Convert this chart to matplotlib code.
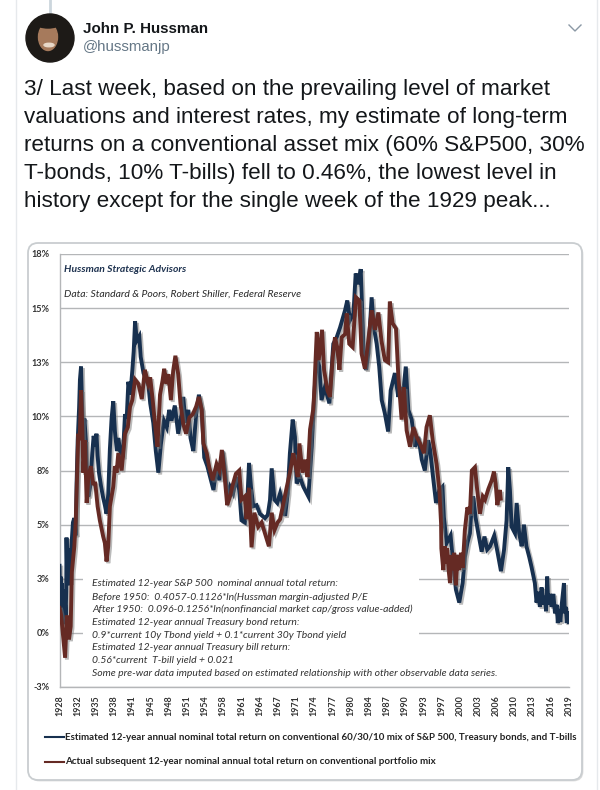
import matplotlib
matplotlib.use('Agg')
import matplotlib.pyplot as plt
import matplotlib.patheffects as pe
from matplotlib.patches import Circle, Ellipse, FancyBboxPatch, Rectangle

W, H = 600, 790

# estimated 12-year return (navy)
est_years = [1928.0, 1928.1, 1928.2, 1928.3, 1928.4, 1928.5, 1928.6, 1928.7, 1928.8, 1928.9, 1929.0, 1929.1, 1929.2,
             1929.25, 1929.35, 1929.5, 1929.6, 1929.7, 1929.85, 1930.0, 1930.2, 1930.4, 1930.65,
             1930.9, 1931.05, 1931.25, 1931.5, 1931.65, 1931.85, 1932.0, 1932.2, 1932.45, 1932.7, 1932.9, 1933.15,
             1933.5, 1933.85, 1934.1, 1934.35, 1934.6, 1934.8, 1935.05, 1935.4, 1935.75, 1936.1, 1936.4, 1936.7,
             1937.0, 1937.3, 1937.6, 1937.9, 1938.25, 1938.5, 1938.85, 1939.3, 1939.7, 1940.0, 1940.3, 1940.65,
             1941.0, 1941.25, 1941.5, 1941.8, 1942.25, 1942.5, 1943.0, 1943.9, 1944.2, 1944.75, 1945.2, 1945.65,
             1946.1, 1946.65, 1947.15, 1947.6, 1948.0, 1948.6, 1949.2, 1949.8, 1950.1, 1950.5, 1951.0, 1951.4,
             1951.9, 1952.4, 1952.9, 1953.4, 1953.85, 1954.4, 1954.9, 1955.5, 1956.05, 1956.55, 1957.1, 1957.55,
             1957.95, 1958.45, 1959.0, 1959.6, 1960.1, 1960.5, 1961.1, 1961.6, 1961.85, 1962.2, 1962.6, 1963.2,
             1963.8, 1964.7, 1965.2, 1965.6, 1965.9, 1966.4, 1966.9, 1967.4, 1967.85, 1968.3, 1968.75, 1969.15,
             1969.65, 1970.05, 1970.35, 1970.95, 1971.55, 1972.15, 1972.45, 1973.05, 1973.45, 1973.95, 1974.4,
             1974.8, 1975.4, 1976.2, 1976.9, 1977.5, 1978.1, 1979.0, 1979.4, 1979.9, 1980.5, 1980.9, 1981.35,
             1981.8, 1982.1, 1982.35, 1982.75, 1983.15, 1983.75, 1984.15, 1984.65, 1985.1, 1985.55, 1986.1, 1986.7,
             1987.15, 1987.9, 1988.5, 1988.8, 1989.3, 1989.85, 1990.3, 1990.9, 1991.5, 1992.1, 1992.7, 1993.25,
             1993.85, 1994.2, 1994.65, 1995.25, 1995.85, 1996.4, 1996.65, 1997.15, 1997.85, 1998.3, 1998.8, 1999.4,
             2000.0, 2000.4, 2000.85, 2001.3, 2001.6, 2001.9, 2002.3, 2002.8, 2003.4, 2003.9, 2004.4, 2004.9,
             2005.65, 2006.25, 2006.85, 2007.4, 2007.85, 2008.15, 2008.45, 2008.75, 2009.35, 2009.65, 2010.1,
             2010.55, 2010.95, 2011.4, 2011.9, 2012.3, 2012.9, 2013.2, 2013.5, 2013.8, 2014.1, 2014.4, 2014.7, 2014.9,
             2015.1, 2015.3, 2015.6, 2015.9, 2016.2, 2016.5, 2016.8, 2017.0, 2017.2, 2017.45, 2017.7, 2018.1, 2018.25,
             2018.45, 2018.6, 2018.8, 2019.0]
est_values = [3.1, 1.8, 2.6, 1.5, 2.3, 1.1, 2.0, 0.7, 1.6, 0.4, 1.3, 0.8, 1.9,
              4.4, 3.0, 3.9, 2.2, 2.8, 2.3, 3.4, 4.3, 5.1, 5.3,
              4.5, 6.9, 8.9, 10.4, 11.7, 12.3, 10.8, 9.1, 9.9, 8.9, 7.4, 6.3,
              6.8, 8.3, 9.1, 8.6, 9.2, 8.2, 7.4, 6.8, 6.3, 5.9, 5.5, 6.4,
              8.5, 9.9, 10.7, 9.3, 8.4, 9.0, 8.4, 8.1, 10.1, 9.9, 11.6, 11.0,
              12.1, 13.0, 14.4, 13.5, 13.7, 12.75, 12.0, 11.4, 10.6, 9.7, 8.4, 7.4,
              8.7, 9.8, 9.5, 10.3, 9.8, 10.5, 9.2, 10.1, 10.9, 9.7, 10.3, 9.0,
              8.4, 10.1, 11.0, 10.3, 8.1, 7.7, 7.2, 6.6, 7.7, 7.05, 8.4, 7.5,
              6.3, 6.75, 6.45, 7.2, 6.6, 5.2, 5.1, 6.45, 7.85, 6.75, 5.85, 5.9,
              5.5, 5.3, 5.45, 6.15, 7.6, 6.15, 6.0, 6.45, 6.0, 5.4, 6.45, 8.3,
              9.85, 9.05, 6.9, 7.2, 6.75, 6.45, 6.3, 8.6, 10.75, 12.75, 12.3,
              10.75, 11.35, 10.6, 13.35, 13.65, 14.1, 14.9, 15.35, 14.45, 14.75, 16.6, 16.1,
              16.8, 14.6, 12.6, 12.15, 12.9, 15.5, 14.1, 13.35, 12.3, 10.75, 10.15, 9.3,
              11.2, 12.0, 10.9, 11.35, 10.9, 12.3, 10.3, 9.85, 8.6, 9.05, 8.0, 7.5,
              8.9, 8.45, 7.35, 6.0, 6.6, 6.75, 5.35, 4.15, 4.5, 3.2, 2.0, 1.4,
              2.3, 3.5, 4.15, 4.6, 5.8, 6.3, 5.35, 4.6, 3.75, 4.45, 3.85, 4.0,
              4.5, 3.7, 2.85, 3.85, 5.2, 7.65, 6.6, 4.9, 4.6, 6.0, 4.6,
              4.0, 5.0, 4.0, 3.5, 3.05, 2.3, 1.4, 1.9, 1.2, 2.1, 1.3, 1.7, 1.0,
              2.6, 1.3, 1.8, 1.2, 1.8, 0.9, 1.3, 0.45, 1.1, 0.5, 1.3, 2.3, 0.9,
              1.2, 0.45, 1.0, 0.5]

# actual subsequent 12-year return (brown), stops in 2006
act_years = [1928.0, 1928.3, 1928.7, 1929.0, 1929.3, 1929.7, 1930.0, 1930.2, 1930.65, 1930.9, 1931.1, 1931.35, 1931.6,
             1931.85, 1932.1, 1932.25, 1932.55, 1932.85, 1933.15, 1933.6, 1934.0, 1934.4, 1934.8, 1935.2, 1935.8,
             1936.1, 1936.4, 1936.7, 1937.0, 1937.6, 1937.9, 1938.2, 1938.5, 1939.1, 1939.7, 1940.2, 1940.6, 1941.0,
             1941.5, 1942.1, 1942.7, 1943.25, 1943.85, 1944.2, 1944.65, 1945.05, 1945.5, 1945.95, 1946.4, 1946.7,
             1947.1, 1947.45, 1947.9, 1948.3, 1948.7, 1949.2, 1949.6, 1950.1, 1950.6, 1951.2, 1951.8, 1952.4, 1952.9,
             1953.4, 1953.7, 1954.3, 1954.75, 1955.35, 1956.05, 1956.55, 1957.0, 1957.55, 1957.95, 1958.45, 1958.9,
             1959.5, 1960.1, 1960.5, 1961.1, 1961.4, 1961.85, 1962.3, 1962.8, 1963.5, 1964.1, 1964.7, 1965.4, 1965.9,
             1966.4, 1966.95, 1967.4, 1968.0, 1968.6, 1969.15, 1969.75, 1970.05, 1970.55, 1970.85, 1971.4, 1971.85,
             1972.3, 1972.75, 1973.3, 1973.45, 1973.95, 1974.3, 1974.9, 1975.25, 1975.85, 1976.3, 1976.8, 1977.2,
             1977.6, 1978.0, 1978.4, 1979.0, 1979.3, 1979.75, 1980.35, 1980.95, 1981.55, 1981.95, 1982.55, 1983.15,
             1983.75, 1984.35, 1984.95, 1985.5, 1986.1, 1986.7, 1987.0, 1987.5, 1988.1, 1988.5, 1989.1, 1989.5, 1990.0,
             1990.6, 1991.2, 1991.8, 1992.4, 1993.1, 1993.55, 1994.15, 1994.65, 1995.35, 1995.85, 1996.15, 1996.2,
             1996.55, 1996.8, 1997.0, 1997.25, 1997.5, 1997.75, 1998.0, 1998.2, 1998.5, 1998.8, 1999.1, 1999.4,
             1999.7, 2000.0, 2000.4, 2000.85, 2001.3, 2001.65, 2002.2,
             2002.6, 2003.1, 2003.6, 2004.0, 2004.6, 2005.2, 2005.6, 2005.9, 2006.2, 2006.65, 2006.8]
act_values = [1.15, 0.8, -0.3, -1.15, 0.8, -0.3, 0.3, 2.8, 4.0, 5.2, 6.9, 9.2, 8.9,
              11.2, 9.2, 7.4, 8.9, 6.0, 7.2, 7.7, 6.9, 6.9, 5.85, 5.2, 4.45,
              4.15, 3.3, 4.0, 5.85, 6.75, 7.7, 7.4, 8.3, 7.5, 9.2, 9.5, 10.45, 10.75,
              11.7, 11.5, 10.8, 12.15, 11.5, 11.8, 10.75, 9.65, 8.6, 11.0, 11.65, 12.2,
              11.5, 11.95, 10.75, 12.1, 12.8, 11.95, 10.6, 9.65, 9.2, 9.95, 10.1, 10.45, 10.9,
              10.3, 8.75, 8.3, 7.65, 7.05, 7.8, 7.5, 8.45, 7.05, 5.9, 6.3, 6.8,
              7.35, 7.5, 6.15, 6.3, 5.25, 6.7, 3.95, 5.55, 4.9, 5.1, 4.6, 4.0, 5.55,
              4.75, 5.1, 5.25, 6.0, 6.75, 7.4, 8.3, 7.85, 7.2, 8.75, 7.4, 8.0,
              7.2, 9.4, 10.3, 10.9, 13.9, 12.6, 14.0, 12.15, 11.2, 10.9, 12.75, 13.65,
              13.2, 12.15, 13.65, 13.8, 14.75, 13.35, 13.2, 15.5, 15.35, 12.9, 12.2, 13.5,
              14.9, 14.0, 14.8, 13.5, 12.6, 12.5, 15.3, 14.3, 14.05, 11.95, 9.85, 11.35, 9.35,
              8.6, 9.5, 9.05, 8.75, 8.3, 9.5, 10.05, 8.9, 7.8, 6.6, 5.05, 3.9,
              2.9, 4.0, 3.2, 3.9, 2.9, 2.3, 3.6, 2.9, 3.7, 2.2, 3.6, 2.9,
              3.7, 3.0, 4.75, 5.8, 5.5, 7.5, 7.65,
              6.6, 5.5, 6.3, 6.15, 6.65, 7.05, 7.45, 6.9, 5.9, 6.6, 6.2]

y_ticks = [17.5, 15, 12.5, 10, 7.5, 5, 2.5, 0, -2.5]
y_labels = ['18%', '15%', '13%', '10%', '8%', '5%', '3%', '0%', '-3%']
x_labels = ['1928', '1932', '1935', '1938', '1941', '1945', '1948', '1951', '1954', '1958', '1961', '1964', '1967',
            '1971', '1974', '1977', '1980', '1984', '1987', '1990', '1993', '1997', '2000', '2003', '2006', '2010',
            '2013', '2016', '2019']

tweet_lines = ['3/ Last week, based on the prevailing level of market',
               'valuations and interest rates, my estimate of long-term',
               'returns on a conventional asset mix (60% S&P500, 30%',
               'T-bonds, 10% T-bills) fell to 0.46%, the lowest level in',
               'history except for the single week of the 1929 peak...']
note_lines = ['Estimated 12-year S&P 500  nominal annual total return:',
              'Before 1950:  0.4057-0.1126*ln(Hussman margin-adjusted P/E',
              'After 1950:  0.096-0.1256*ln(nonfinancial market cap/gross value-added)',
              'Estimated 12-year annual Treasury bond return:',
              '0.9*current 10y Tbond yield + 0.1*current 30y Tbond yield',
              'Estimated 12-year annual Treasury bill return:',
              '0.56*current  T-bill yield + 0.021',
              'Some pre-war data imputed based on estimated relationship with other observable data series.']
legend_est = 'Estimated 12-year annual nominal total return on conventional 60/30/10 mix of S&P 500, Treasury bonds, and T-bills'
legend_act = 'Actual subsequent 12-year nominal annual total return on conventional portfolio mix'

NAVY = '#17304f'
BROWN = '#652a24'
GRID = '#b4b6b8'
CHART_FONT = 'Lato'


def put_text(x, y, s, **kw):
    # x, y in image pixels, y going down
    kw.setdefault('va', 'center')
    fig.text(x / W, 1 - y / H, s, **kw)


fig = plt.figure(figsize=(W / 100, H / 100), dpi=100)

# page layer in pixel coordinates
bg = fig.add_axes([0, 0, 1, 1], zorder=0)
bg.set_xlim(0, W)
bg.set_ylim(H, 0)
bg.axis('off')
bg.plot([16, 16], [0, H], color='#e6e9ec', lw=1)
bg.plot([597, 597], [0, H], color='#e6e9ec', lw=1)
bg.plot([50, 50], [0, 12], color='#ccd6dd', lw=2)
bg.plot([569, 575, 581], [25, 31, 25], color='#8b98a5', lw=1)

bg.add_patch(Circle((50, 38), 24, color='#1d1a17', zorder=2))
bg.add_patch(Ellipse((48, 37), 19, 27, color='#a67a5c', zorder=3))
bg.add_patch(Ellipse((49, 45), 10, 3.5, color='#e8d8c8', zorder=4))
bg.add_patch(Ellipse((48, 24), 22, 8, color='#1d1a17', zorder=4))

bg.add_patch(FancyBboxPatch((28, 243), 554, 537, boxstyle='round,pad=0,rounding_size=10',
                            fc='white', ec='#c9cdd0', lw=1.3, zorder=2,
                            path_effects=[pe.SimplePatchShadow(offset=(1, -1), alpha=0.2), pe.Normal()]))

put_text(83, 29, 'John P. Hussman', family='Liberation Sans', fontweight='bold', fontsize=10.9, color='#14171a')
put_text(83, 47, '@hussmanjp', family='Liberation Sans', fontsize=10.8, color='#657786')
for i, line in enumerate(tweet_lines):
    put_text(24, 89 + 28 * i, line, family='Liberation Sans', fontsize=16.2, color='#14171a')

# chart
ax = fig.add_axes([59.5 / W, 1 - 687 / H, (569 - 59.5) / W, (687 - 254) / H], zorder=1)
ax.patch.set_alpha(0)
ax.set_xlim(1928, 2019)
ax.set_ylim(-2.5, 17.5)
ax.set_yticks(y_ticks)
ax.set_yticklabels(y_labels, family=CHART_FONT, fontweight='bold', fontsize=6.6, color='#333333')
ax.set_xticks([1928 + 3.25 * i for i in range(len(x_labels))])
ax.set_xticklabels(x_labels, rotation=90, family=CHART_FONT, fontweight='bold', fontsize=6.4, color='#333333')
ax.tick_params(axis='both', length=0)
ax.tick_params(axis='y', pad=7)
ax.tick_params(axis='x', pad=6)
ax.grid(axis='y', color=GRID, lw=1)
ax.set_axisbelow(True)
for side in ['top', 'right']:
    ax.spines[side].set_visible(False)
for side in ['left', 'bottom']:
    ax.spines[side].set_color(GRID)
    ax.spines[side].set_linewidth(1)

# white box of the note sits over the gridlines
ax.add_patch(Rectangle((1932.2, -2.1), 60.0, 5.0, fc='white', ec='none', zorder=1.5))

shadow = [pe.SimpleLineShadow(offset=(1.3, -1.3), shadow_color='#777777', alpha=0.5), pe.Normal()]
ax.plot(est_years, est_values, color=NAVY, lw=2.8, zorder=3, path_effects=shadow, solid_joinstyle='miter')
ax.plot(act_years, act_values, color=BROWN, lw=2.8, zorder=4, path_effects=shadow, solid_joinstyle='miter')

put_text(64, 269, 'Hussman Strategic Advisors', family=CHART_FONT, fontweight='bold', style='italic',
         fontsize=7.5, color='#1f3350')
put_text(64, 294, 'Data: Standard & Poors, Robert Shiller, Federal Reserve', family=CHART_FONT, style='italic',
         fontsize=7.45, color='#2a2a2a')
for i, line in enumerate(note_lines):
    put_text(92, 584 + 12.75 * i, line, family=CHART_FONT, style='italic', fontsize=7.48, color='#333333')

# legend drawn by hand like the original
bg.plot([45, 64], [737, 737], color=NAVY, lw=1.5, zorder=5)
bg.plot([45, 64], [762, 762], color=BROWN, lw=1.5, zorder=5)
put_text(65, 737, legend_est, family=CHART_FONT, fontweight='bold', fontsize=7.05, color='#222222')
put_text(65, 762, legend_act, family=CHART_FONT, fontweight='bold', fontsize=7.05, color='#222222')

fig.savefig('out.png', dpi=100)
